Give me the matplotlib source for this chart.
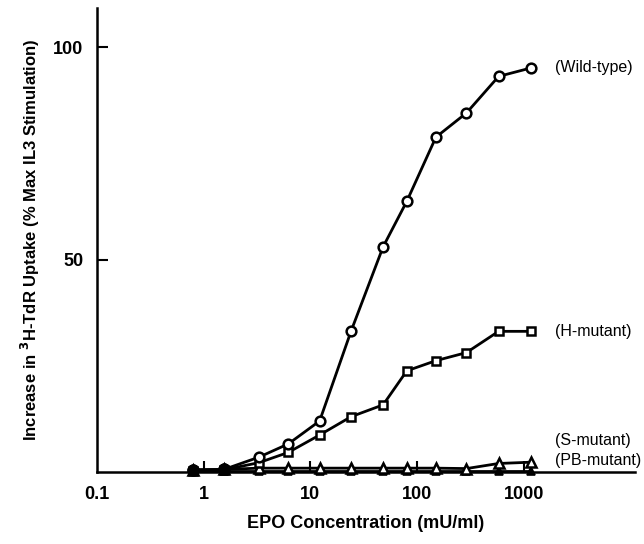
import matplotlib
matplotlib.use("Agg")
import matplotlib.pyplot as plt
import numpy as np

plt.rcParams['font.family'] = ['Liberation Sans', 'DejaVu Sans']

# EPO concentration (mU/ml)
epo = [0.8, 1.55, 3.3, 6.2, 12.2, 24, 48, 80, 150, 290, 580, 1170]
wild_type = [0.5, 0.6, 3.5, 6.6, 12.0, 33.1, 53.0, 63.7, 78.8, 84.5, 93.1, 95.1]
h_mutant = [0.3, 0.5, 2.2, 4.6, 8.7, 13.0, 15.8, 23.8, 26.2, 28.1, 33.1, 33.1]
s_mutant = [0.5, 0.6, 0.9, 0.9, 0.9, 0.9, 0.9, 0.9, 0.9, 0.8, 2.0, 2.3]
pb_mutant = [0.2, 0.2, 0.2, 0.2, 0.2, 0.2, 0.2, 0.2, 0.2, 0.2, 0.2, 0.2]
n_filled_start = 2  # first doses drawn with filled circles (overlapping series)

labels = ["(Wild-type)", "(H-mutant)", "(S-mutant)", "(PB-mutant)"]
xticks = [0.1, 1, 10, 100, 1000]
xticklabels = ["0.1", "1", "10", "100", "1000"]
yticks = [50, 100]

fig = plt.figure(figsize=(6.44, 5.44), dpi=100)
ax = fig.add_axes([0.1506, 0.1324, 0.986 - 0.1506, 0.9853 - 0.1324])

lw = 2.0
common = dict(color='black', lw=lw, clip_on=False, zorder=3)
ax.plot(epo, pb_mutant, marker='^', ms=6, mfc='black', mec='black', mew=1.2, **common)
ax.plot(epo, s_mutant, marker='^', ms=7, mfc='white', mec='black', mew=1.8, **common)
ax.plot(epo, h_mutant, marker='s', ms=6, mfc='white', mec='black', mew=1.8, **common)
ax.plot(epo, wild_type, marker='o', ms=7, mfc='white', mec='black', mew=1.8, **common)
ax.plot(epo[:n_filled_start], wild_type[:n_filled_start], ls='none', marker='o', ms=8,
        mfc='black', mec='black', clip_on=False, zorder=4)

ax.set_xscale('log')
ax.set_xlim(0.1, 11000)
ax.set_ylim(0, 109.2)

ax.spines['top'].set_visible(False)
ax.spines['right'].set_visible(False)
ax.spines['left'].set_linewidth(1.8)
ax.spines['bottom'].set_linewidth(1.8)

ax.set_xticks(xticks)
ax.set_xticklabels(xticklabels)
ax.xaxis.set_minor_locator(matplotlib.ticker.NullLocator())
ax.set_yticks(yticks)
ax.set_yticklabels([str(t) for t in yticks])
ax.tick_params(axis='both', direction='in', length=8, width=1.5, pad=10,
               labelsize=13)
for lab in ax.get_xticklabels() + ax.get_yticklabels():
    lab.set_fontweight('bold')
ax.xaxis.get_major_ticks()[0].tick1line.set_visible(False)

ax.set_xlabel("EPO Concentration (mU/ml)", fontsize=13, fontweight='bold', labelpad=9)
ax.set_ylabel(r"Increase in $^{\mathbf{3}}$H-TdR Uptake (% Max IL3 Stimulation)",
              fontsize=12, fontweight='bold', labelpad=8)

lab_x = 1950
lab_kw = dict(fontsize=11.5, va='center', ha='left')
ax.text(lab_x, wild_type[-1], labels[0], **lab_kw)
ax.text(lab_x, h_mutant[-1], labels[1], **lab_kw)
ax.text(lab_x, 7.5, labels[2], **lab_kw)
ax.text(lab_x, 2.6, labels[3], **lab_kw)

fig.savefig("out.png", dpi=100)
